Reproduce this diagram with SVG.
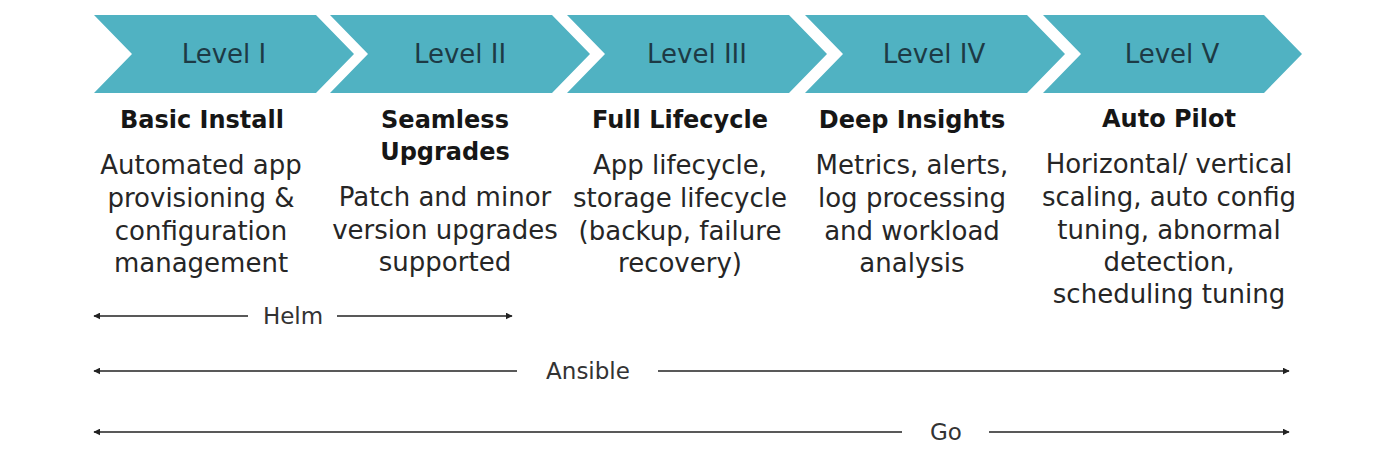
<svg xmlns="http://www.w3.org/2000/svg" width="1398" height="450" viewBox="0 0 1398 450">
<defs>
<style>
.chev{fill:#50b2c2;}
.lvl{font-family:"DejaVu Sans","Open Sans",sans-serif;font-size:26px;fill:#1d3a45;text-anchor:middle;}
.ttl{font-family:"DejaVu Sans","Open Sans",sans-serif;font-size:24px;font-weight:bold;fill:#161616;text-anchor:middle;}
.body{font-family:"DejaVu Sans","Open Sans",sans-serif;font-size:26px;fill:#262626;text-anchor:middle;}
.tool{font-family:"DejaVu Sans","Open Sans",sans-serif;font-size:23px;fill:#333;text-anchor:middle;}
.ln{stroke:#222;stroke-width:1.6;fill:none;}
</style>
<marker id="ah" viewBox="0 0 10 10" refX="9" refY="5" markerWidth="7" markerHeight="7" markerUnits="userSpaceOnUse" orient="auto-start-reverse">
<path d="M0,0 L10,5 L0,10 Z" fill="#222"/>
</marker>
</defs>
<rect width="1398" height="450" fill="#ffffff"/>
<g id="level1">
<path class="chev" d="M94,15 L316,15 L354,54 L316,93 L94,93 L132,54 Z"/>
<text class="lvl" x="224" y="63">Level I</text>
<text class="ttl" x="202" y="128">Basic Install</text>
<text class="body" x="201" y="174">Automated app</text>
<text class="body" x="201" y="207">provisioning &amp;</text>
<text class="body" x="201" y="240">configuration</text>
<text class="body" x="201" y="272">management</text>
</g>
<g id="level2">
<path class="chev" d="M330,15 L552,15 L590,54 L552,93 L330,93 L368,54 Z"/>
<text class="lvl" x="460" y="63">Level II</text>
<text class="ttl" x="445" y="128">Seamless</text>
<text class="ttl" x="445" y="160">Upgrades</text>
<text class="body" x="445" y="206">Patch and minor</text>
<text class="body" x="445" y="239">version upgrades</text>
<text class="body" x="445" y="271">supported</text>
</g>
<g id="level3">
<path class="chev" d="M567,15 L789,15 L827,54 L789,93 L567,93 L605,54 Z"/>
<text class="lvl" x="697" y="63">Level III</text>
<text class="ttl" x="680" y="128">Full Lifecycle</text>
<text class="body" x="680" y="174">App lifecycle,</text>
<text class="body" x="680" y="207">storage lifecycle</text>
<text class="body" x="680" y="240">(backup, failure</text>
<text class="body" x="680" y="272">recovery)</text>
</g>
<g id="level4">
<path class="chev" d="M805,15 L1027,15 L1065,54 L1027,93 L805,93 L843,54 Z"/>
<text class="lvl" x="934" y="63">Level IV</text>
<text class="ttl" x="912" y="128">Deep Insights</text>
<text class="body" x="912" y="174">Metrics, alerts,</text>
<text class="body" x="912" y="207">log processing</text>
<text class="body" x="912" y="240">and workload</text>
<text class="body" x="912" y="272">analysis</text>
</g>
<g id="level5">
<path class="chev" d="M1043,15 L1264,15 L1302,54 L1264,93 L1043,93 L1081,54 Z"/>
<text class="lvl" x="1172" y="63">Level V</text>
<text class="ttl" x="1169" y="127">Auto Pilot</text>
<text class="body" x="1169" y="173">Horizontal/ vertical</text>
<text class="body" x="1169" y="206">scaling, auto config</text>
<text class="body" x="1169" y="239">tuning, abnormal</text>
<text class="body" x="1169" y="271">detection,</text>
<text class="body" x="1169" y="303">scheduling tuning</text>
</g>
<g id="connectors">
<line class="ln" x1="248" y1="316" x2="94" y2="316" marker-end="url(#ah)"/>
<line class="ln" x1="337" y1="316" x2="512" y2="316" marker-end="url(#ah)"/>
<line class="ln" x1="517" y1="371" x2="94" y2="371" marker-end="url(#ah)"/>
<line class="ln" x1="658" y1="371" x2="1289" y2="371" marker-end="url(#ah)"/>
<line class="ln" x1="902" y1="432" x2="94" y2="432" marker-end="url(#ah)"/>
<line class="ln" x1="989" y1="432" x2="1289" y2="432" marker-end="url(#ah)"/>
</g>
<g id="tool-labels">
<text class="tool" x="293" y="324">Helm</text>
<text class="tool" x="588" y="379">Ansible</text>
<text class="tool" x="946" y="440">Go</text>
</g>
</svg>
